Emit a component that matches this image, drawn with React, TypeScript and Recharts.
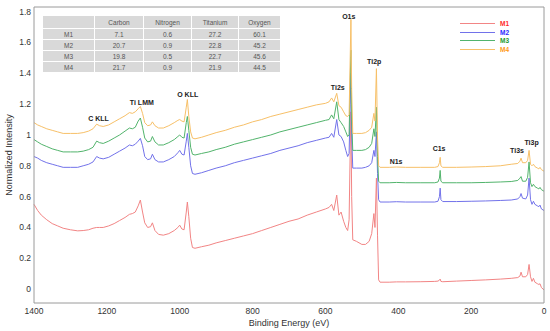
import React from "react";
import { LineChart, Line, XAxis, YAxis, ReferenceDot } from "recharts";

// binding energy (eV), high to low
const ENERGY = [
  1400, 1390, 1380, 1365, 1350, 1335, 1320, 1300, 1280, 1265, 1250, 1238, 1228, 1220, 1210, 1195, 1180, 1165,
  1150, 1138, 1130, 1122, 1114, 1108, 1102, 1096, 1088, 1080, 1075, 1068, 1058, 1045, 1030, 1015, 1005, 1000,
  994, 988, 982, 979, 975, 970, 965, 958, 940, 920, 900, 875, 850, 825, 800, 775, 750, 725, 700, 675, 650, 625,
  600, 590, 583, 577, 569, 563, 557, 550, 544, 539, 535, 532, 530, 528, 525, 515, 500, 490, 480, 473, 467, 464,
  460, 457, 454, 450, 425, 405, 380, 340, 300, 291, 287, 285, 283, 278, 240, 200, 160, 120, 90, 72, 66, 63, 59,
  50, 45, 41, 37, 33, 29, 25, 18, 14, 11, 7, 0,
];

const M1 = [
  0.55, 0.51, 0.48, 0.45, 0.425, 0.41, 0.395, 0.385, 0.378, 0.38, 0.385, 0.395, 0.4, 0.4, 0.4, 0.41, 0.425, 0.445,
  0.465, 0.485, 0.49, 0.5, 0.54, 0.578, 0.5, 0.43, 0.4, 0.405, 0.43, 0.38, 0.355, 0.35, 0.36, 0.38, 0.4, 0.415,
  0.39, 0.385, 0.5, 0.565, 0.47, 0.33, 0.27, 0.265, 0.275, 0.285, 0.3, 0.315, 0.33, 0.345, 0.36, 0.38, 0.4, 0.42,
  0.44, 0.455, 0.48, 0.5, 0.52, 0.53, 0.55, 0.51, 0.61, 0.48, 0.5, 0.44, 0.4, 0.38, 0.45, 0.9, 1.15, 0.6, 0.32,
  0.31, 0.29, 0.29, 0.31, 0.36, 0.49, 0.4, 0.72, 0.35, 0.06, 0.045, 0.045, 0.047, 0.047, 0.048, 0.05, 0.052, 0.058,
  0.065, 0.05, 0.048, 0.052, 0.056, 0.06, 0.065, 0.07, 0.075, 0.085, 0.11, 0.08, 0.08, 0.095, 0.16, 0.08, 0.05, 0.07,
  0.045, 0.035, 0.03, 0.035, 0.01, -0.005,
];

const M2 = [
  0.86, 0.85, 0.835, 0.82, 0.81, 0.8, 0.79, 0.79, 0.79, 0.8, 0.81, 0.825, 0.86, 0.85, 0.845, 0.855, 0.875, 0.895,
  0.915, 0.935, 0.93, 0.94, 0.96, 0.978, 0.93, 0.86, 0.84, 0.845, 0.875, 0.84, 0.825, 0.825, 0.84, 0.86, 0.885, 0.9,
  0.875, 0.87, 0.96, 1.01, 0.92, 0.8, 0.75, 0.745, 0.755, 0.77, 0.785, 0.8, 0.82, 0.835, 0.85, 0.865, 0.88, 0.9,
  0.915, 0.93, 0.95, 0.965, 0.98, 0.985, 1.01, 0.985, 1.1, 1.0, 0.99, 0.955, 0.9, 0.86, 0.88, 1.2, 1.4, 1.0, 0.785,
  0.785, 0.785, 0.79, 0.8, 0.82, 0.9, 0.86, 1.02, 0.75, 0.58, 0.565, 0.565, 0.567, 0.565, 0.565, 0.565, 0.57, 0.6,
  0.655, 0.58, 0.568, 0.568, 0.57, 0.572, 0.575, 0.578, 0.585, 0.6, 0.62, 0.59, 0.585, 0.61, 0.72, 0.58, 0.55, 0.57,
  0.55, 0.54, 0.535, 0.545, 0.52, 0.51,
];

const M3 = [
  0.97, 0.955, 0.94, 0.925, 0.91, 0.9, 0.89, 0.89, 0.89, 0.895, 0.905, 0.92, 0.96, 0.95, 0.945, 0.96, 0.98, 1.0,
  1.025, 1.045, 1.04, 1.05, 1.09, 1.11, 1.05, 0.98, 0.955, 0.96, 0.99, 0.955, 0.935, 0.935, 0.95, 0.97, 0.99, 1.0,
  0.985, 0.98, 1.08, 1.12, 1.03, 0.92, 0.875, 0.87, 0.88, 0.89, 0.905, 0.92, 0.94, 0.955, 0.97, 0.985, 1.0, 1.02,
  1.035, 1.05, 1.065, 1.08, 1.095, 1.1, 1.13, 1.105, 1.215, 1.1, 1.08, 1.055, 1.02, 0.99, 1.0, 1.35, 1.55, 1.1, 0.9,
  0.9, 0.9, 0.905, 0.92, 0.945, 1.04, 0.99, 1.18, 0.86, 0.7, 0.69, 0.69, 0.692, 0.69, 0.69, 0.69, 0.695, 0.72, 0.77,
  0.7, 0.69, 0.69, 0.69, 0.692, 0.695, 0.698, 0.705, 0.72, 0.73, 0.7, 0.7, 0.725, 0.825, 0.69, 0.665, 0.68, 0.665,
  0.655, 0.65, 0.66, 0.645, 0.635,
];

const M4 = [
  1.08, 1.065, 1.055, 1.04, 1.03, 1.02, 1.01, 1.01, 1.01, 1.015, 1.025, 1.04, 1.07, 1.06, 1.055, 1.065, 1.085, 1.105,
  1.125, 1.145, 1.14, 1.15, 1.17, 1.185, 1.14, 1.08, 1.06, 1.065, 1.085, 1.06, 1.045, 1.045, 1.06, 1.08, 1.095, 1.1,
  1.09, 1.085, 1.18, 1.23, 1.12, 1.02, 0.98, 0.975, 0.985, 1.0, 1.015, 1.03, 1.05, 1.065, 1.085, 1.1, 1.12, 1.135,
  1.15, 1.165, 1.18, 1.195, 1.205, 1.215, 1.24, 1.215, 1.27, 1.19, 1.18, 1.15, 1.125, 1.12, 1.13, 1.5, 1.75, 1.3,
  1.01, 1.01, 1.01, 1.015, 1.03, 1.05, 1.14, 1.09, 1.43, 0.98, 0.8, 0.79, 0.79, 0.792, 0.79, 0.79, 0.79, 0.795, 0.82,
  0.855, 0.8, 0.79, 0.79, 0.792, 0.795, 0.8, 0.81, 0.815, 0.83, 0.85, 0.82, 0.82, 0.835, 0.9, 0.81, 0.8, 0.81, 0.795,
  0.785, 0.78, 0.79, 0.775, 0.765,
];

const SERIES = [
  { key: "M1", values: M1, stroke: "#f28585", text: "#ff2a2a" },
  { key: "M2", values: M2, stroke: "#7272ea", text: "#2a2aff" },
  { key: "M3", values: M3, stroke: "#52b46c", text: "#1e9a2e" },
  { key: "M4", values: M4, stroke: "#f7c068", text: "#ff9a1a" },
];

const X_TICKS = [0, 200, 400, 600, 800, 1000, 1200, 1400];
const Y_TICKS = [0, 0.2, 0.4, 0.6, 0.8, 1, 1.2, 1.4, 1.6, 1.8];

const PEAKS = [
  { name: "C KLL", e: 1223, v: 1.105 },
  { name: "Ti LMM", e: 1104, v: 1.21 },
  { name: "O KLL", e: 978, v: 1.26 },
  { name: "Ti2s", e: 566, v: 1.31 },
  { name: "O1s", e: 536, v: 1.77 },
  { name: "Ti2p", e: 466, v: 1.475 },
  { name: "N1s", e: 406, v: 0.825 },
  { name: "C1s", e: 288, v: 0.91 },
  { name: "Ti3s", e: 74, v: 0.897 },
  { name: "Ti3p", e: 34, v: 0.948 },
];

const TABLE_HEAD = ["", "Carbon", "Nitrogen", "Titanium", "Oxygen"];
const TABLE_ROWS = [
  ["M1", "7.1", "0.6", "27.2", "60.1"],
  ["M2", "20.7", "0.9", "22.8", "45.2"],
  ["M3", "19.8", "0.5", "22.7", "45.6"],
  ["M4", "21.7", "0.9", "21.9", "44.5"],
];

const FONT = "'Liberation Sans', Arial, sans-serif";
const AXIS = "#9a9a9a";

const data = ENERGY.map((e, i) => {
  const row: Record<string, number> = { e };
  SERIES.forEach((s) => (row[s.key] = s.values[i]));
  return row;
});

function YTitle(props: any) {
  const vb = props.viewBox || { x: 0, y: 7, height: 296 };
  const x = vb.x + 9;
  const y = vb.y + vb.height / 2;
  return (
    <text
      x={x}
      y={y}
      transform={`rotate(-90 ${x} ${y})`}
      textAnchor="middle"
      dominantBaseline="central"
      fontSize={9}
      fontFamily={FONT}
      fill="#333"
    >
      Normalized Intensity
    </text>
  );
}

function DataTable() {
  return (
    <div
      style={{
        position: "absolute",
        left: 43,
        top: 16,
        display: "grid",
        gridTemplateColumns: "51px 48px 47px 46px 41px",
        gridTemplateRows: "12px 10px 10px 10px 10px",
        gap: "1px 1px",
        fontFamily: FONT,
        fontSize: 6.5,
        color: "#555",
      }}
    >
      {[TABLE_HEAD, ...TABLE_ROWS].map((row, r) =>
        row.map((cell, c) => (
          <div
            key={`${r}-${c}`}
            style={{ background: "#d9d9d9", display: "flex", alignItems: "center", justifyContent: "center" }}
          >
            {cell}
          </div>
        ))
      )}
    </div>
  );
}

function SeriesLegend() {
  return (
    <div style={{ position: "absolute", left: 460, top: 19, fontFamily: FONT, fontSize: 6.5, fontWeight: 700 }}>
      {SERIES.map((s) => (
        <div key={s.key} style={{ display: "flex", alignItems: "center", height: 8.7 }}>
          <span style={{ width: 35, height: 1, background: s.stroke, display: "inline-block" }} />
          <span style={{ marginLeft: 5, color: s.text }}>{s.key}</span>
        </div>
      ))}
    </div>
  );
}

export default function App() {
  return (
    <div style={{ position: "absolute", left: 0, top: 0, width: 550, height: 331, background: "#fff" }}>
      <LineChart width={550} height={331} data={data} margin={{ top: 7, right: 6, bottom: 0, left: 0 }}>
        <XAxis
          dataKey="e"
          type="number"
          domain={[0, 1400]}
          reversed
          ticks={X_TICKS}
          height={28}
          tickLine={false}
          tickSize={0}
          tickMargin={5}
          axisLine={{ stroke: AXIS }}
          tick={{ fontSize: 8.5, fill: "#333", fontFamily: FONT }}
          label={{ value: "Binding Energy (eV)", position: "insideBottom", offset: 5, fontSize: 9, fill: "#333", fontFamily: FONT }}
        />
        <YAxis
          type="number"
          domain={[-0.09, 1.83]}
          allowDataOverflow
          ticks={Y_TICKS}
          width={34}
          tickLine={false}
          tickSize={0}
          tickMargin={3}
          axisLine={{ stroke: AXIS }}
          tickFormatter={(v: number) => String(+v.toFixed(1))}
          tick={{ fontSize: 8.5, fill: "#333", fontFamily: FONT }}
          label={<YTitle />}
        />
        <XAxis xAxisId="bt" type="number" domain={[0, 1400]} reversed ticks={X_TICKS} orientation="bottom" mirror tick={false} tickSize={4} axisLine={false} tickLine={{ stroke: AXIS }} />
        <XAxis xAxisId="top" type="number" domain={[0, 1400]} reversed ticks={X_TICKS} orientation="top" mirror tick={false} tickSize={4} axisLine={{ stroke: AXIS }} tickLine={{ stroke: AXIS }} />
        <YAxis yAxisId="lt" type="number" domain={[-0.09, 1.83]} allowDataOverflow ticks={Y_TICKS} orientation="left" mirror tick={false} tickSize={4} axisLine={false} tickLine={{ stroke: AXIS }} />
        <YAxis yAxisId="rt" type="number" domain={[-0.09, 1.83]} allowDataOverflow ticks={Y_TICKS} orientation="right" mirror tick={false} tickSize={4} axisLine={{ stroke: AXIS }} tickLine={{ stroke: AXIS }} />
        {SERIES.map((s) => (
          <Line
            key={s.key}
            dataKey={s.key}
            type="linear"
            stroke={s.stroke}
            strokeWidth={1}
            dot={false}
            isAnimationActive={false}
          />
        ))}
        {PEAKS.map((p) => (
          <ReferenceDot
            key={p.name}
            x={p.e}
            y={p.v}
            r={0}
            fill="none"
            stroke="none"
            label={{ value: p.name, position: "center", fontSize: 7, fontWeight: 700, fill: "#222", fontFamily: FONT }}
          />
        ))}
      </LineChart>
      <DataTable />
      <SeriesLegend />
    </div>
  );
}
